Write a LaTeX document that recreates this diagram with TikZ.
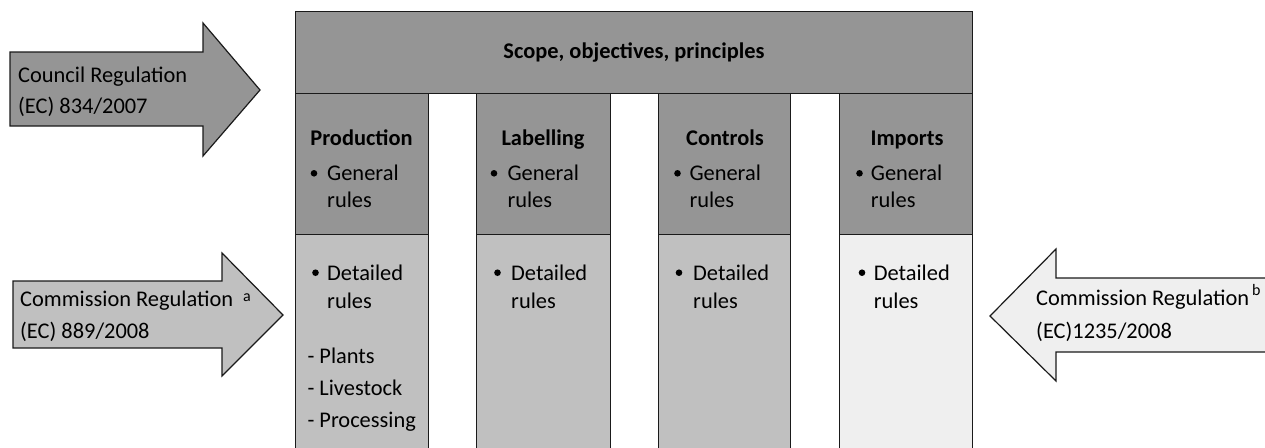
\documentclass[tikz,border=0pt]{standalone}
\usepackage{fontspec}
\setmainfont{Carlito}
\definecolor{dk}{HTML}{959595}
\definecolor{md}{HTML}{C0C0C0}
\definecolor{lt}{HTML}{EFEFEF}
\definecolor{ln}{HTML}{1A1A1A}
\begin{document}
\begin{tikzpicture}[x=1pt,y=-1pt,
  panel/.style={draw=ln, line width=1.2pt, inner sep=0pt, anchor=north west},
  bigarrow/.style={draw=ln, line width=1.2pt},
  txt/.style={anchor=base west, inner sep=0pt, font=\fontsize{22.4}{27}\selectfont},
  ttl/.style={anchor=base, inner sep=0pt, font=\fontsize{22.4}{27}\selectfont\bfseries},
  suptxt/.style={anchor=base west, inner sep=0pt, font=\fontsize{16}{18}\selectfont},
  dot/.style={circle, fill=black, inner sep=0pt, minimum size=6.6pt}]
\useasboundingbox (0,0) rectangle (1265,447);
\clip (0,0) rectangle (1265,447);
% arrows
\draw[bigarrow, fill=dk] (10,52) -- (203,52) -- (203,23) -- (260,90) -- (203,156) -- (203,126) -- (10,126) -- cycle;
\draw[bigarrow, fill=md] (13,281) -- (222,281) -- (222,253) -- (283,315) -- (222,376) -- (222,348) -- (13,348) -- cycle;
\draw[bigarrow, fill=lt] (1300,278) -- (1056,278) -- (1056,249) -- (990,316) -- (1056,381) -- (1056,352) -- (1300,352) -- cycle;
\node[txt] (c1) at (18,82) {Council Regulation};
\node[txt] (c2) at (18,113) {(EC) 834/2007};
\node[txt] (m1) at (20,306) {Commission Regulation};
\node[suptxt] (ma) at (243,301) {a};
\node[txt] (m2) at (20,338) {(EC) 889/2008};
\node[txt] (n1) at (1036,305) {Commission Regulation};
\node[suptxt] (nb) at (1252,295) {b};
\node[txt] (n2) at (1036,338) {(EC)1235/2008};
% top box
\node[panel, fill=dk, minimum width=677pt, minimum height=82pt] (scope) at (295,11) {};
\node[ttl] (scopet) at (634,58) {Scope, objectives, principles};
% columns
\node[panel, fill=dk, minimum width=133pt, minimum height=141pt] (pt) at (295,93) {};
\node[panel, fill=md, minimum width=133pt, minimum height=240pt] (pb) at (295,234) {};
\node[panel, fill=dk, minimum width=134pt, minimum height=141pt] (lt) at (476,93) {};
\node[panel, fill=md, minimum width=134pt, minimum height=240pt] (lb) at (476,234) {};
\node[panel, fill=dk, minimum width=132pt, minimum height=141pt] (ct) at (658,93) {};
\node[panel, fill=md, minimum width=132pt, minimum height=240pt] (cb) at (658,234) {};
\node[panel, fill=dk, minimum width=133pt, minimum height=141pt] (it) at (839,93) {};
\node[panel, fill=lt, minimum width=133pt, minimum height=240pt] (ib) at (839,234) {};
% titles
\node[ttl] (ptt) at (361.5,145) {Production};
\node[ttl] (ltt) at (543,145) {Labelling};
\node[ttl] (ctt) at (725,145) {Controls};
\node[ttl] (itt) at (907,145) {Imports};
% general rules
\node[dot] (pd1) at (314,173.3) {};
\node[txt] (pg1) at (327,180) {General};
\node[txt] (pg2) at (327,207) {rules};
\node[dot] (ld1) at (494,173.3) {};
\node[txt] (lg1) at (507.3,180) {General};
\node[txt] (lg2) at (507.3,207) {rules};
\node[dot] (cd1) at (677.5,173.3) {};
\node[txt] (cg1) at (689.3,180) {General};
\node[txt] (cg2) at (689.3,207) {rules};
\node[dot] (id1) at (859.5,173.3) {};
\node[txt] (ig1) at (870.7,180) {General};
\node[txt] (ig2) at (870.7,207) {rules};
% detailed rules
\node[dot] (pd2) at (315.5,272.7) {};
\node[txt] (pr1) at (327,280) {Detailed};
\node[txt] (pr2) at (327,308) {rules};
\node[txt] (pp1) at (307.3,363) {- Plants};
\node[txt] (pp2) at (307.3,395) {- Livestock};
\node[txt] (pp3) at (307.3,427) {- Processing};
\node[dot] (ld2) at (497.5,272.7) {};
\node[txt] (lr1) at (511,280) {Detailed};
\node[txt] (lr2) at (511,308) {rules};
\node[dot] (cd2) at (679,272.7) {};
\node[txt] (cr1) at (693,280) {Detailed};
\node[txt] (cr2) at (693,308) {rules};
\node[dot] (id2) at (862,272.7) {};
\node[txt] (ir1) at (873.6,280) {Detailed};
\node[txt] (ir2) at (873.6,308) {rules};
\end{tikzpicture}
\end{document}
